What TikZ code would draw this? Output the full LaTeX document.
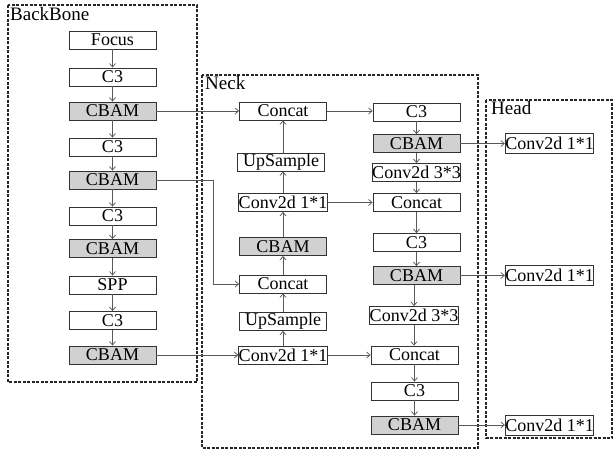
\documentclass[tikz,border=0pt]{standalone}
\usepackage{fontspec}
\setmainfont{Liberation Serif}
\usetikzlibrary{arrows.meta}
\begin{document}
\begin{tikzpicture}[x=1pt,y=-1pt,
  blk/.style={draw=black!80, line width=0.8pt, minimum width=87pt, minimum height=18pt, inner sep=0pt, font=\fontsize{18}{18}\selectfont},
  gblk/.style={blk, fill=black!18},
  arr/.style={draw=black!65, line width=0.75pt, -{Straight Barb[length=3.5pt,width=6pt]}},
  frame/.style={draw=black!85, line width=1.1pt, dash pattern=on 3pt off 1.5pt},
  lbl/.style={anchor=north west, inner sep=0pt, font=\fontsize{19}{20}\selectfont}]
\useasboundingbox (0,0) rectangle (614,451);
% frames
\draw[frame] (8,5) rectangle (197,382);
\draw[frame] (202,75) rectangle (478,448);
\draw[frame] (486,100) rectangle (612,438);
\node[lbl] (lbb) at (10,7) {BackBone};
\node[lbl] (lnk) at (205,76) {Neck};
\node[lbl] (lhd) at (491,101) {Head};
% backbone
\node[blk]  (f)  at (112.5,40)  {Focus};
\node[blk]  (b1) at (112.5,77)  {C3};
\node[gblk] (b2) at (112.5,111) {CBAM};
\node[blk]  (b3) at (112.5,147) {C3};
\node[gblk] (b4) at (112.5,180) {CBAM};
\node[blk]  (b5) at (112.5,216) {C3};
\node[gblk] (b6) at (112.5,248.5) {CBAM};
\node[blk]  (b7) at (112.5,285) {SPP};
\node[blk]  (b8) at (112.5,320.5) {C3};
\node[gblk] (b9) at (112.5,355) {CBAM};
% neck column 1
\node[blk]  (nc1) at (283,111)   {Concat};
\node[blk]  (nu1) at (281,162)   {UpSample};
\node[blk]  (nv1) at (283,202.5) {Conv2d 1*1};
\node[gblk] (nm1) at (283,246.5) {CBAM};
\node[blk]  (nc2) at (283,284)   {Concat};
\node[blk]  (nu2) at (283,321.5) {UpSample};
\node[blk]  (nv2) at (283,355)   {Conv2d 1*1};
% neck column 2
\node[blk]  (m1)  at (416.5,112)   {C3};
\node[gblk] (m2)  at (416.5,143.5) {CBAM};
\node[blk]  (m3)  at (416.5,172.5) {Conv2d 3*3};
\node[blk]  (m4)  at (416.5,202.5) {Concat};
\node[blk]  (m5)  at (416.5,242.5) {C3};
\node[gblk] (m6)  at (416.5,275.5) {CBAM};
\node[blk]  (m7)  at (414,315.5)   {Conv2d 3*3};
\node[blk]  (m8)  at (414.5,355)   {Concat};
\node[blk]  (m9)  at (414.5,391)   {C3};
\node[gblk] (m10) at (414.5,425)   {CBAM};
% head
\node[blk, minimum height=20pt] (h1) at (549.5,143.5) {Conv2d 1*1};
\node[blk, minimum height=20pt] (h2) at (549.5,275.5) {Conv2d 1*1};
\node[blk, minimum height=20pt] (h3) at (549.5,425)   {Conv2d 1*1};
% backbone chain
\foreach \a/\b in {f/b1,b1/b2,b2/b3,b3/b4,b4/b5,b5/b6,b6/b7,b7/b8,b8/b9}
  \draw[arr] (\a) -- (\b);
% backbone to neck
\draw[arr] (b2) -- (nc1);
\coordinate (bend) at (213,180);
\draw[arr] (b4.east) -- (bend) |- (nc2.west);
\draw[arr] (b9) -- (nv2);
% neck column 1 (upward)
\draw[arr] (nv2) -- (nv2 |- nu2.south);
\draw[arr] (nu2) -- (nc2);
\draw[arr] (nc2) -- (nm1);
\draw[arr] (nm1) -- (nv1);
\draw[arr] (nv1) -- (nv1 |- nu1.south);
\draw[arr] (nv1 |- nu1.north) -- (nc1);
% lateral neck links
\draw[arr] (nc1) -- (m1.west |- nc1);
\draw[arr] (nv1) -- (m4);
\draw[arr] (nv2) -- (m8);
% neck column 2 (downward)
\draw[arr] (m1) -- (m2);
\draw[arr] (m2) -- (m3);
\draw[arr] (m3) -- (m4);
\draw[arr] (m4) -- (m5);
\draw[arr] (m5) -- (m6);
\draw[arr] (m6.south -| m7) -- (m7);
\draw[arr] (m7) -- (m7 |- m8.north);
\draw[arr] (m8) -- (m9);
\draw[arr] (m9) -- (m10);
% to head
\draw[arr] (m2) -- (h1);
\draw[arr] (m6) -- (h2);
\draw[arr] (m10) -- (h3);
\end{tikzpicture}
\end{document}
